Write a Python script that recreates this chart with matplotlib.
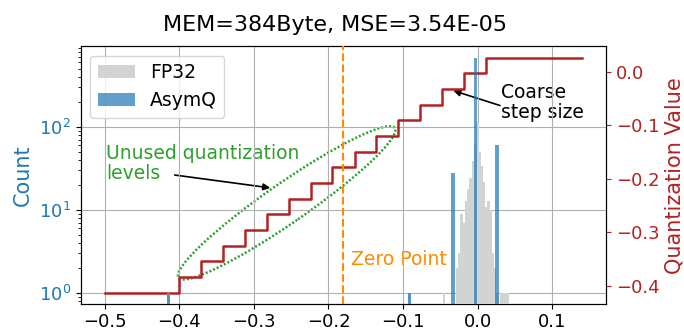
import numpy as np
import matplotlib
matplotlib.use('Agg')
import matplotlib.pyplot as plt
from matplotlib.patches import Ellipse
from matplotlib.transforms import ScaledTranslation

# FP32 weight histogram (bin centres, counts)
fp32_x = [-0.4145, -0.0915, -0.0455,
          -0.0275, -0.0245, -0.0215, -0.0185, -0.0155, -0.0125, -0.0095,
          -0.0065, -0.0035, -0.0005, 0.0025, 0.0055, 0.0085, 0.0115,
          0.0145, 0.0175, 0.0205, 0.0235, 0.0265,
          0.0315, 0.0345, 0.0375, 0.0405]
fp32_counts = [1, 1, 1,
               2, 3, 9, 7, 13, 18, 24,
               39, 60, 114, 50, 34, 22, 11,
               13, 10, 3, 2, 1,
               1, 1, 1, 1]

# quantized weights (AsymQ)
asymq_x = [-0.414, -0.091, -0.033, -0.003, 0.026]
asymq_counts = [1, 1, 28, 677, 61]

# quantization step function
step_edges = [-0.5, -0.400, -0.371, -0.341, -0.312, -0.282, -0.253, -0.224,
              -0.195, -0.165, -0.136, -0.107, -0.077, -0.048, -0.019, 0.011, 0.14]
step_levels = [-0.4130, -0.3837, -0.3544, -0.3251, -0.2958, -0.2665, -0.2372,
               -0.2079, -0.1786, -0.1493, -0.1200, -0.0907, -0.0614, -0.0321,
               -0.0028, 0.0265]
zero_point = -0.18

red = 'firebrick'
blue = 'tab:blue'

fig = plt.figure(figsize=(6.84, 3.32), dpi=100)
ax = fig.add_axes([0.118, 0.083, 0.768, 0.778])
ax2 = ax.twinx()
# histogram axes on top, right axis only for ticks / label / annotations
ax.set_zorder(2)
ax.patch.set_visible(False)
ax2.set_zorder(1)
ax2.set_ylim(-0.435, 0.048)
ax2.set_yticks([0.0, -0.1, -0.2, -0.3, -0.4])
ax2.tick_params(axis='y', labelsize=13, colors=red)
ax2.set_ylabel('Quantization Value', color=red, fontsize=15)

# step line drawn in right-axis coordinates but above the grid, below the bars
ax.plot(step_edges, step_levels + [step_levels[-1]], drawstyle='steps-post',
        color=red, lw=1.8, zorder=2, transform=ax2.transData)
ax.bar(fp32_x, fp32_counts, width=0.0032, color='lightgray', lw=0,
       label='FP32', zorder=3)
ax.bar(asymq_x, asymq_counts, width=0.0045, color=blue, alpha=0.7, lw=0,
       label='AsymQ', zorder=3)
ax.axvline(zero_point, color='darkorange', ls='--', lw=1.5, zorder=3)
ax.set_yscale('log')
ax.set_ylim(0.73, 940)
ax.set_xlim(-0.532, 0.172)
ax.set_xticks([-0.5, -0.4, -0.3, -0.2, -0.1, 0.0, 0.1])
ax.grid(True, zorder=1)
ax.set_axisbelow(True)
ax.tick_params(axis='x', labelsize=13, pad=2.5)
ax.tick_params(axis='y', which='both', labelsize=13, labelcolor=blue)
ax.set_ylabel('Count', color=blue, fontsize=15)
ax.legend(loc='upper left', fontsize=13.5)
ax.set_title('MEM=384Byte, MSE=3.54E-05', fontsize=16, x=0.484, pad=11)

# annotations (right axis coordinates)
ax2.text(-0.170, -0.351, 'Zero Point', color='darkorange', fontsize=13.5,
         va='center', ha='left')
ax2.text(-0.498, -0.172, 'Unused quantization\nlevels', color='tab:green',
         fontsize=13.5, va='center', ha='left', linespacing=1.05)
ax2.annotate('', xy=(-0.278, -0.217), xytext=(-0.406, -0.193),
             arrowprops=dict(arrowstyle='-|>', color='black', lw=1.2,
                             mutation_scale=10, shrinkA=0, shrinkB=0))
ax2.text(0.031, -0.058, 'Coarse\nstep size', color='black', fontsize=13.5,
         va='center', ha='left', linespacing=1.05)
ax2.annotate('', xy=(-0.0327, -0.0352), xytext=(0.0299, -0.063),
             arrowprops=dict(arrowstyle='-|>', color='black', lw=1.2,
                             mutation_scale=10, shrinkA=0, shrinkB=0))

ell = Ellipse((0, 0), width=2.63, height=0.40, angle=34.7, fill=False,
              edgecolor='tab:green', lw=1.8, ls=(0, (0.8, 0.8)),
              transform=fig.dpi_scale_trans + ScaledTranslation(-0.256, -0.245, ax2.transData))
ax2.add_patch(ell)

fig.savefig('out.png', dpi=100)
